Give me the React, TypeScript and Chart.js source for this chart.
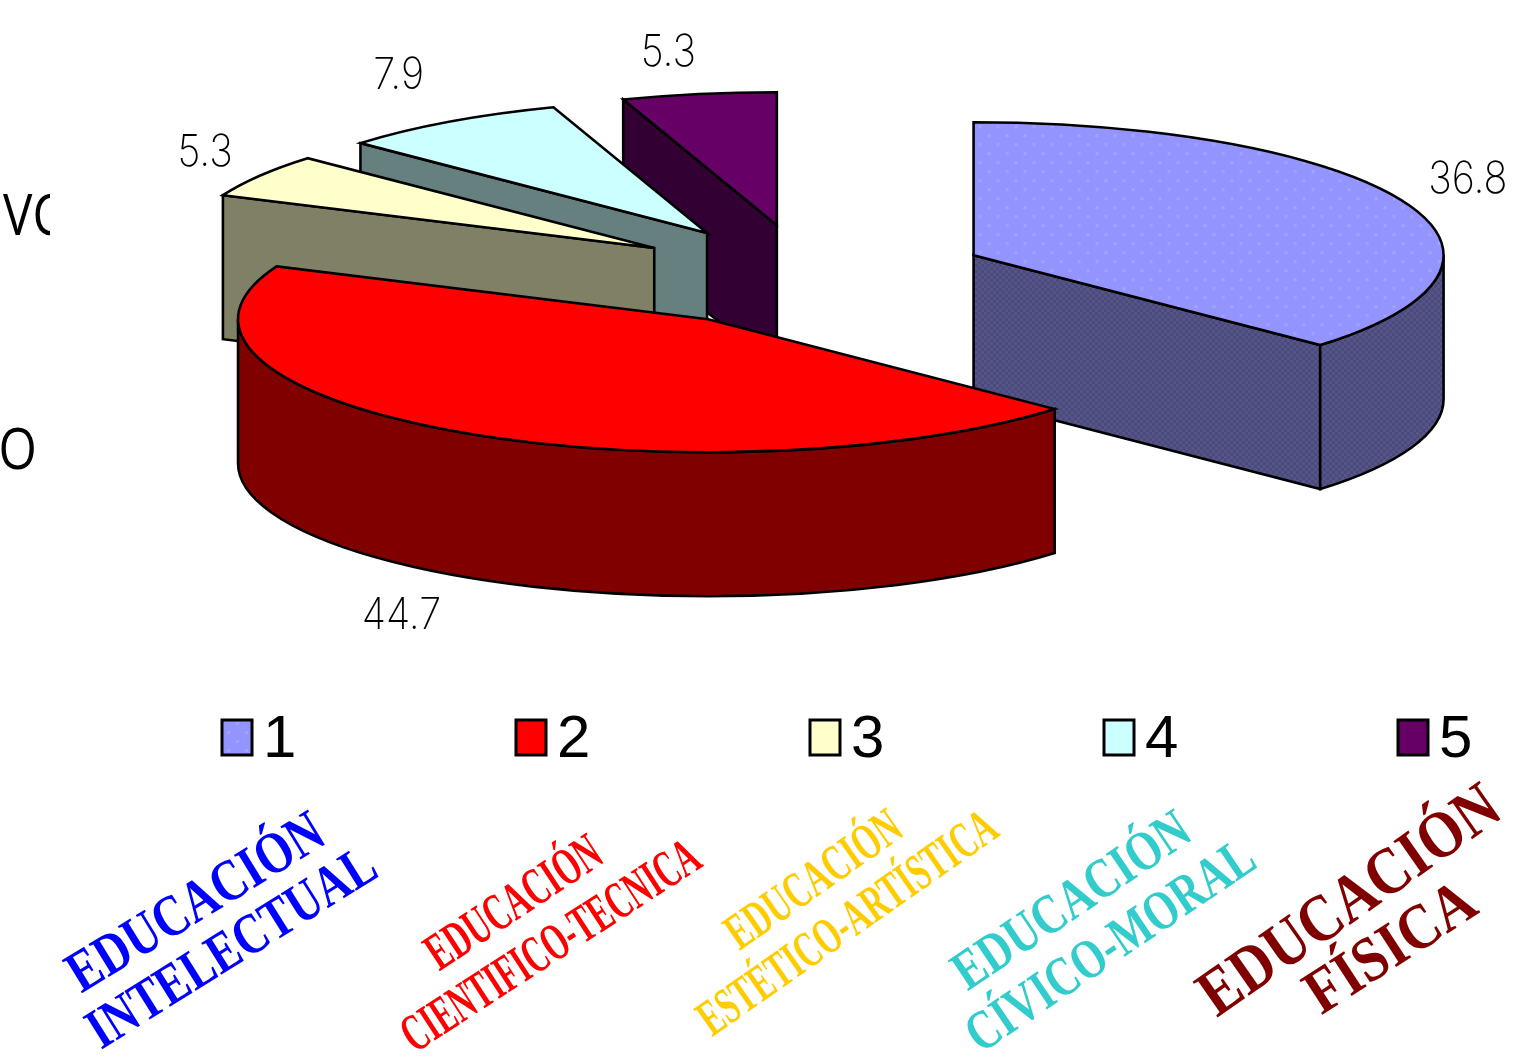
import React, { useEffect, useRef } from "react";
import { Chart, registerables } from "chart.js";

Chart.register(...registerables);

const categories = ["1", "2", "3", "4", "5"];
const percentages = [36.8, 44.7, 5.3, 7.9, 5.3];
const topColors = ["#9999FF", "#FF0000", "#FFFFCC", "#CCFFFF", "#660066"];
const sideColors = ["#4D4D80", "#800000", "#808066", "#668080", "#330033"];

const titleLines = [
  { text: "EDUCACIÓN", color: "#0000FF", cx: 197, cy: 905, angle: -31.5, len: 290, cap: 39 },
  { text: "INTELECTUAL", color: "#0000FF", cx: 233, cy: 950, angle: -32, len: 330, cap: 38 },
  { text: "EDUCACIÓN", color: "#FF0000", cx: 515, cy: 905, angle: -33.5, len: 200, cap: 35 },
  { text: "CIENTIFICO-TECNICA", color: "#FF0000", cx: 552, cy: 948, angle: -33, len: 345, cap: 35 },
  { text: "EDUCACIÓN", color: "#FFCC00", cx: 815, cy: 882, angle: -35, len: 203, cap: 34 },
  { text: "ESTÉTICO-ARTÍSTICA", color: "#FFCC00", cx: 849, cy: 925, angle: -35, len: 353, cap: 34 },
  { text: "EDUCACIÓN", color: "#33CCCC", cx: 1073, cy: 903, angle: -34, len: 274, cap: 37 },
  { text: "CÍVICO-MORAL", color: "#33CCCC", cx: 1112, cy: 948, angle: -34, len: 336, cap: 37 },
  { text: "EDUCACIÓN", color: "#800000", cx: 1351, cy: 903, angle: -35, len: 352, cap: 44 },
  { text: "FÍSICA", color: "#800000", cx: 1392, cy: 950, angle: -33, len: 190, cap: 42 },
];

const labelShifts = [
  [0, 0],
  [-13, -5],
  [4, 7],
  [-12, 0],
  [-19, 13],
];

const DRAW_ORDER = [0, 4, 3, 2, 1];
const RADIUS = 470;
const SQUASH = 0.283;
const EXPLODE = 182;
const DEPTH = 144;

function tile(size: number, paint: (c: CanvasRenderingContext2D) => void, squash = 1) {
  const el = document.createElement("canvas");
  el.width = size;
  el.height = size;
  const c = el.getContext("2d")!;
  paint(c);
  const p = c.createPattern(el, "repeat")!;
  if (squash !== 1) p.setTransform(new DOMMatrix().scale(1, 1 / squash));
  return p;
}

function bluePattern(squash: number) {
  return tile(18, (c) => {
    c.fillStyle = "#9494FF";
    c.fillRect(0, 0, 18, 18);
    c.fillStyle = "#A3A3FF";
    c.fillRect(2, 2, 3, 3);
    c.fillRect(11, 11, 3, 3);
  }, squash);
}

function blueSidePattern() {
  return tile(6, (c) => {
    c.fillStyle = "#4A4A80";
    c.fillRect(0, 0, 6, 6);
    c.fillStyle = "#565684";
    c.fillRect(0, 0, 3, 3);
    c.fillRect(3, 3, 3, 3);
  });
}

const pie3d = {
  id: "pie3d",
  beforeDatasetDraw(chart: any) {
    const ctx: CanvasRenderingContext2D = chart.ctx;
    const arcs = chart.getDatasetMeta(0).data;
    const side = [blueSidePattern(), ...sideColors.slice(1)];
    ctx.save();
    ctx.lineWidth = 2.6;
    ctx.strokeStyle = "#000";
    ctx.lineJoin = "miter";
    for (const i of DRAW_ORDER) {
      const arc = arcs[i];
      const a0 = arc.startAngle;
      const a1 = arc.endAngle;
      const mid = (a0 + a1) / 2;
      const cx = arc.x + Math.cos(mid) * EXPLODE;
      const cy = arc.y + Math.sin(mid) * EXPLODE * SQUASH;
      const px = (a: number) => cx + Math.cos(a) * RADIUS;
      const py = (a: number) => cy + Math.sin(a) * RADIUS * SQUASH;
      ctx.fillStyle = side[i] as any;
      const radialWall = (a: number) => {
        ctx.beginPath();
        ctx.moveTo(cx, cy);
        ctx.lineTo(px(a), py(a));
        ctx.lineTo(px(a), py(a) + DEPTH);
        ctx.lineTo(cx, cy + DEPTH);
        ctx.closePath();
        ctx.fill();
        ctx.stroke();
      };
      if (Math.sin(a0 - Math.PI / 2) > 1e-6) radialWall(a0);
      if (Math.sin(a1 + Math.PI / 2) > 1e-6) radialWall(a1);
      const from = Math.max(a0, 0);
      const to = Math.min(a1, Math.PI);
      if (from < to) {
        ctx.beginPath();
        ctx.moveTo(px(from), py(from));
        ctx.ellipse(cx, cy, RADIUS, RADIUS * SQUASH, 0, from, to, false);
        ctx.lineTo(px(to), py(to) + DEPTH);
        ctx.ellipse(cx, cy + DEPTH, RADIUS, RADIUS * SQUASH, 0, to, from, true);
        ctx.closePath();
        ctx.fill();
        ctx.stroke();
      }
      ctx.save();
      ctx.translate(cx, cy);
      ctx.scale(1, SQUASH);
      ctx.translate(-arc.x, -arc.y);
      arc.draw(ctx);
      ctx.restore();
      ctx.beginPath();
      ctx.moveTo(cx, cy);
      ctx.ellipse(cx, cy, RADIUS, RADIUS * SQUASH, 0, a0, a1, false);
      ctx.closePath();
      ctx.stroke();
    }
    ctx.restore();
    return false;
  },
  afterDraw(chart: any) {
    const ctx: CanvasRenderingContext2D = chart.ctx;
    const arcs = chart.getDatasetMeta(0).data;
    ctx.save();
    // value labels
    ctx.textAlign = "center";
    ctx.textBaseline = "middle";
    ctx.fillStyle = "#000";
    arcs.forEach((arc: any, i: number) => {
      const mid = (arc.startAngle + arc.endAngle) / 2;
      const wall = Math.sin(mid) > 0 ? DEPTH : 0;
      const r = RADIUS + EXPLODE;
      const x = arc.x + Math.cos(mid) * (r + 70) + labelShifts[i][0];
      const y = arc.y + Math.sin(mid) * r * SQUASH + Math.sin(mid) * 55 + wall + labelShifts[i][1];
      ctx.save();
      ctx.translate(x, y);
      ctx.scale(0.9, 1);
      ctx.font = '200 44px "Inter", "Liberation Sans", sans-serif';
      ctx.fillText(String(percentages[i]), 0, 0);
      ctx.restore();
    });
    // legend
    const left = 222;
    const step = 294;
    categories.forEach((label, i) => {
      const x = left + i * step;
      ctx.fillStyle = i === 0 ? (bluePattern(1) as any) : topColors[i];
      ctx.fillRect(x, 720, 30, 35);
      ctx.strokeStyle = "#000";
      ctx.lineWidth = 3;
      ctx.strokeRect(x, 720, 30, 35);
      ctx.fillStyle = "#000";
      ctx.textAlign = "left";
      ctx.textBaseline = "alphabetic";
      ctx.font = '60px "Liberation Sans", sans-serif';
      ctx.fillText(label, x + 41, 757);
    });
    // rotated titles
    ctx.textAlign = "center";
    ctx.textBaseline = "middle";
    titleLines.forEach((t) => {
      const size = t.cap / 0.66;
      ctx.save();
      ctx.font = `bold ${size}px "Liberation Serif", serif`;
      const w = ctx.measureText(t.text).width;
      ctx.translate(t.cx, t.cy);
      ctx.rotate((t.angle * Math.PI) / 180);
      ctx.scale(t.len / w, 1);
      ctx.fillStyle = t.color;
      ctx.fillText(t.text, 0, 0);
      ctx.restore();
    });
    // fragments of cropped slide text at the left edge
    ctx.save();
    ctx.beginPath();
    ctx.rect(0, 0, 50, 1060);
    ctx.clip();
    ctx.fillStyle = "#000";
    ctx.textAlign = "left";
    ctx.textBaseline = "alphabetic";
    ctx.font = '56px "Open Sans", sans-serif';
    ctx.save();
    ctx.translate(3, 235);
    ctx.scale(0.88, 1);
    ctx.fillText("VC", 0, 0);
    ctx.restore();
    ctx.save();
    ctx.translate(-31, 469);
    ctx.scale(0.88, 1);
    ctx.fillText("VO", 0, 0);
    ctx.restore();
    ctx.restore();
    ctx.restore();
  },
};

export default function App() {
  const ref = useRef<HTMLCanvasElement>(null);
  useEffect(() => {
    const chart = new Chart(ref.current!, {
      type: "pie",
      data: {
        labels: categories,
        datasets: [
          {
            data: percentages,
            backgroundColor: [bluePattern(SQUASH), ...topColors.slice(1)],
            borderWidth: 0,
          },
        ],
      },
      options: {
        animation: false,
        responsive: false,
        devicePixelRatio: 1,
        radius: RADIUS,
        layout: { padding: { left: 91, right: 0, top: 0, bottom: 508 } },
        plugins: { legend: { display: false }, tooltip: { enabled: false } },
      } as any,
      plugins: [pie3d as any],
    });
    return () => chart.destroy();
  }, []);
  return (
    <canvas
      ref={ref}
      width={1523}
      height={1060}
      style={{ position: "absolute", left: 0, top: 0, display: "block" }}
    />
  );
}
